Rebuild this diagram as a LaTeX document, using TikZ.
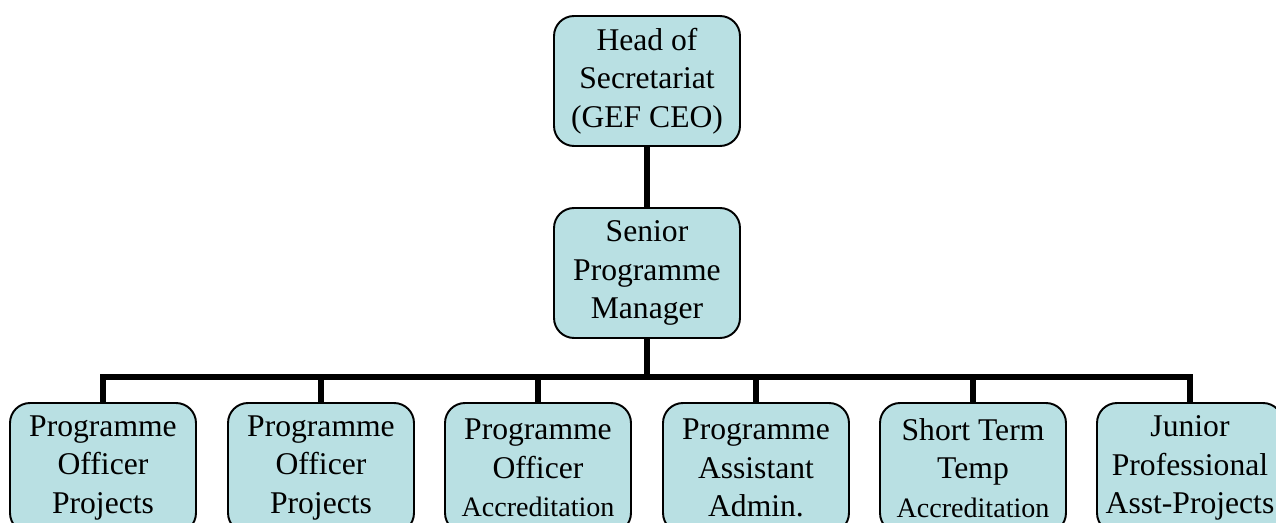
\documentclass[tikz,border=0pt]{standalone}
\usepackage{fontspec}
\setmainfont{Liberation Serif}
\usepackage{tikz}

\definecolor{boxfill}{RGB}{185,224,227}

\begin{document}
\begin{tikzpicture}[x=0.02cm, y=-0.02cm]
        \tikzstyle{every node}+=[inner sep=0pt]
        \tikzstyle{post}=[draw=black, line width=1.1pt, fill=boxfill, rounded corners=0.4cm,
                minimum width=3.72cm, minimum height=2.6cm, align=center,
                font=\fontsize{18}{21.8}\selectfont]
        \tikzstyle{link}=[line width=3.4pt, line join=miter]
        \useasboundingbox (0,0) rectangle (1276,523);
        % top two levels
        \node [post] (head) at (647,81) {Head of\\Secretariat\\(GEF CEO)};
        \node [post] (spm) at (647,273) {Senior\\Programme\\Manager};
        \coordinate (bus) at (647,377);
        % bottom row
        \node [post] (po1) at (103,468) {Programme\\Officer\\Projects};
        \node [post] (po2) at (321,468) {Programme\\Officer\\Projects};
        \node [post] (po3) at (538,468) {Programme\\Officer\\{\fontsize{16}{19}\selectfont Accreditation}};
        \node [post] (pa) at (756,468) {Programme\\Assistant\\Admin.};
        \node [post] (stt) at (973,468) {Short Term\\Temp\\{\fontsize{16}{19}\selectfont Accreditation}};
        \node [post] (jpo) at (1190,468) {Junior\\Professional\\Asst-Projects};
        % connectors
        \draw [link] (head) -- (spm);
        \draw [link] (spm) -- (bus);
        \draw [link] (po1.north) -- (po1.north |- bus) -- (jpo.north |- bus) -- (jpo.north);
        \foreach \n in {po2,po3,pa,stt}
                \draw [link] (\n.north) -- (\n.north |- bus);
    \end{tikzpicture}
\end{document}
